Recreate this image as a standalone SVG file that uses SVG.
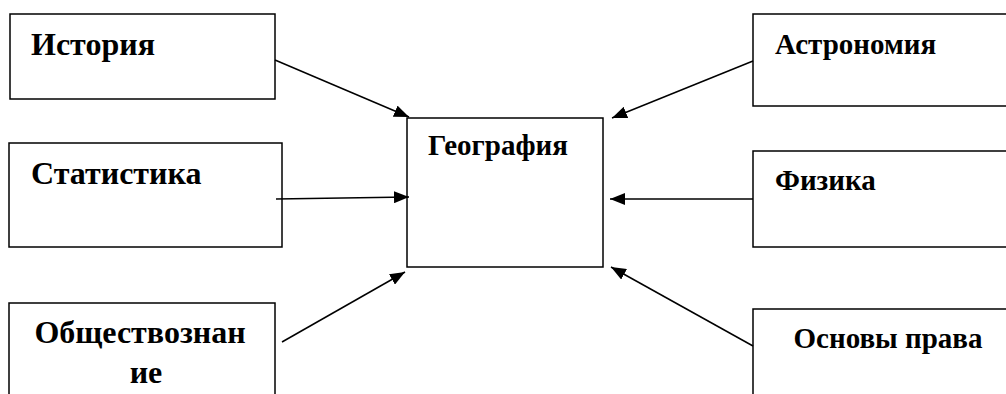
<svg xmlns="http://www.w3.org/2000/svg" width="1006" height="394" viewBox="0 0 1006 394">
<defs>
<style>
.box{fill:#fff;stroke:#000;stroke-width:1.5}
.t{font-family:"Liberation Serif","Times New Roman",serif;font-weight:bold;font-size:29px;fill:#000}
.tl{font-size:32px}
.c{stroke:#000;stroke-width:1.5;fill:none;marker-end:url(#ah)}
</style>
<marker id="ah" markerUnits="userSpaceOnUse" markerWidth="16" markerHeight="12" refX="15" refY="6" orient="auto">
<path d="M0,0 L15,6 L0,12 Z" fill="#000"/>
</marker>
</defs>
<rect width="1006" height="394" fill="#fff"/>
<g id="istoriya"><rect class="box" x="10" y="14" width="265" height="85"/><text class="t tl" x="31" y="55">История</text></g>
<g id="statistika"><rect class="box" x="9" y="143" width="273" height="104"/><text class="t tl" x="31" y="184">Статистика</text></g>
<g id="obshchestvo"><rect class="box" x="9" y="303" width="266" height="100"/><text class="t tl" x="140" y="343" text-anchor="middle">Обществознан</text><text class="t tl" x="146" y="383" text-anchor="middle">ие</text></g>
<g id="geografiya"><rect class="box" x="407" y="118" width="196" height="149"/><text class="t" x="428" y="155">География</text></g>
<g id="astronomiya"><rect class="box" x="753" y="14" width="260" height="92"/><text class="t" x="775" y="54">Астрономия</text></g>
<g id="fizika"><rect class="box" x="753" y="151" width="260" height="96"/><text class="t" x="775" y="190">Физика</text></g>
<g id="osnovy"><rect class="box" x="753" y="309" width="260" height="100"/><text class="t" x="888" y="348" text-anchor="middle">Основы права</text></g>
<g id="connectors">
<line class="c" x1="275" y1="60" x2="409" y2="117"/>
<line class="c" x1="276" y1="199" x2="409" y2="197"/>
<line class="c" x1="282" y1="342" x2="405" y2="272"/>
<line class="c" x1="753" y1="61" x2="612" y2="118"/>
<line class="c" x1="753" y1="199" x2="610" y2="199"/>
<line class="c" x1="753" y1="346" x2="611" y2="267"/>
</g>
</svg>
